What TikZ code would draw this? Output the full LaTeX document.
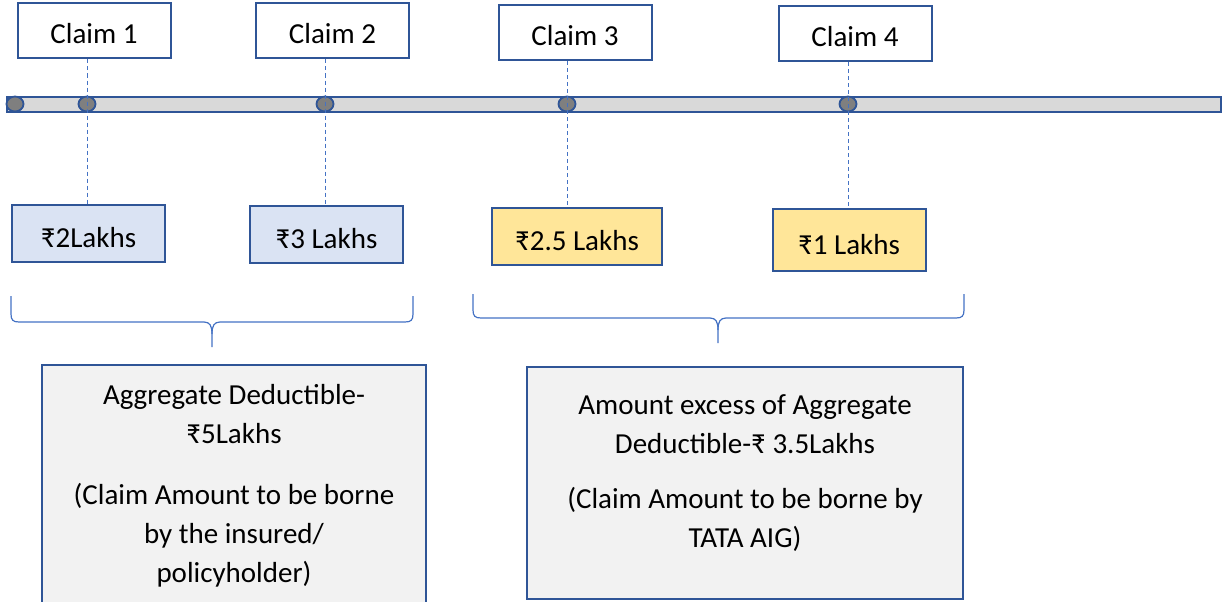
\documentclass[tikz,border=0pt]{standalone}
\usepackage{fontspec}
\setmainfont{Carlito}
\usepackage{tikz}
\usetikzlibrary{shapes.geometric}

\definecolor{boxblue}{HTML}{2F5597}
\definecolor{guideblue}{HTML}{4472C4}
\definecolor{beadgray}{HTML}{7F7F7F}
\definecolor{bargray}{HTML}{D9D9D9}
\definecolor{amtblue}{HTML}{DAE3F3}
\definecolor{amtyellow}{HTML}{FFE699}
\definecolor{sumgray}{HTML}{F2F2F2}

\begin{document}
\begin{tikzpicture}[x=1pt,y=-1pt,font=\fontsize{29}{39}\selectfont,
                    claim/.style={rectangle,draw=boxblue,line width=2pt,fill=white,
                                  minimum width=153pt,minimum height=55pt,
                                  text height=26pt,text depth=0pt},
                    amount/.style={claim,minimum height=57pt,text height=28pt},
                    bead/.style={ellipse,draw=boxblue,line width=1.8pt,fill=beadgray,
                                 minimum width=17pt,minimum height=15pt,inner sep=0pt},
                    guide/.style={draw=guideblue,line width=1pt,dash pattern=on 4pt off 3pt},
                    sumbox/.style={rectangle,draw=boxblue,line width=2pt,fill=sumgray},
                    sumtext/.style={align=center},
                    brace/.style={draw=guideblue,line width=1.2pt}]

  \useasboundingbox (0,0) rectangle (1223,602);
  \clip (0,0) rectangle (1223,602);

  \path[draw=boxblue,line width=2pt,fill=bargray] (7,97) rectangle (1221,111.5);

  \node[bead]   (d0) at (15,104)  {};
  \node[bead]   (d1) at (87,104)  {};
  \node[bead]   (d2) at (325,104) {};
  \node[bead]   (d3) at (567,104) {};
  \node[bead]   (d4) at (848,104) {};

  \node[claim]  (c1) at (94,31)    {Claim 1};
  \node[claim]  (c2) at (332.5,31) {Claim 2};
  \node[claim]  (c3) at (575,32.5) {Claim 3};
  \node[claim]  (c4) at (855,33.5) {Claim 4};

  \node[amount,fill=amtblue]                    (a1) at (88.5,233.5) {₹2Lakhs};
  \node[amount,fill=amtblue]                    (a2) at (326.5,234.5) {₹3 Lakhs};
  \node[amount,fill=amtyellow,minimum width=170pt] (a3) at (577,236.5) {₹2.5 Lakhs};
  \node[amount,fill=amtyellow,minimum height=62pt] (a4) at (849,240) {₹1 Lakhs};

  \path[guide] (c1.south -| d1) -- (a1.north -| d1)
               (c2.south -| d2) -- (a2.north -| d2)
               (c3.south -| d3) -- (a3.north -| d3)
               (c4.south -| d4) -- (a4.north -| d4);

  % braces under the amounts
  \draw[brace] (11,296) -- (11,314) .. controls (11,320) and (13,322) .. (19,322)
               -- (204,322) .. controls (210,322) and (212,326) .. (212,334) -- (212,347);
  \draw[brace] (413,296) -- (413,314) .. controls (413,320) and (411,322) .. (405,322)
               -- (220,322) .. controls (214,322) and (212,326) .. (212,334);
  \draw[brace] (473,294) -- (473,310) .. controls (473,316) and (475,318) .. (481,318)
               -- (710,318) .. controls (716,318) and (718,322) .. (718,330) -- (718,343);
  \draw[brace] (964,294) -- (964,310) .. controls (964,316) and (962,318) .. (956,318)
               -- (726,318) .. controls (720,318) and (718,322) .. (718,330);

  \node[sumbox,minimum width=384pt,minimum height=245pt] (b1) at (234,487.5) {};
  \node[sumbox,minimum width=436pt,minimum height=232pt] (b2) at (745,483) {};

  \node[sumtext] (t1) at ([yshift=2pt]b1.center)
    {Aggregate Deductible-\\₹5Lakhs\\[22pt](Claim Amount to be borne\\by the insured/\\policyholder)};
  \node[sumtext] (t2) at ([yshift=10pt]b2.center)
    {Amount excess of Aggregate\\Deductible-₹ 3.5Lakhs\\[16pt](Claim Amount to be borne by\\TATA AIG)};
\end{tikzpicture}
\end{document}
